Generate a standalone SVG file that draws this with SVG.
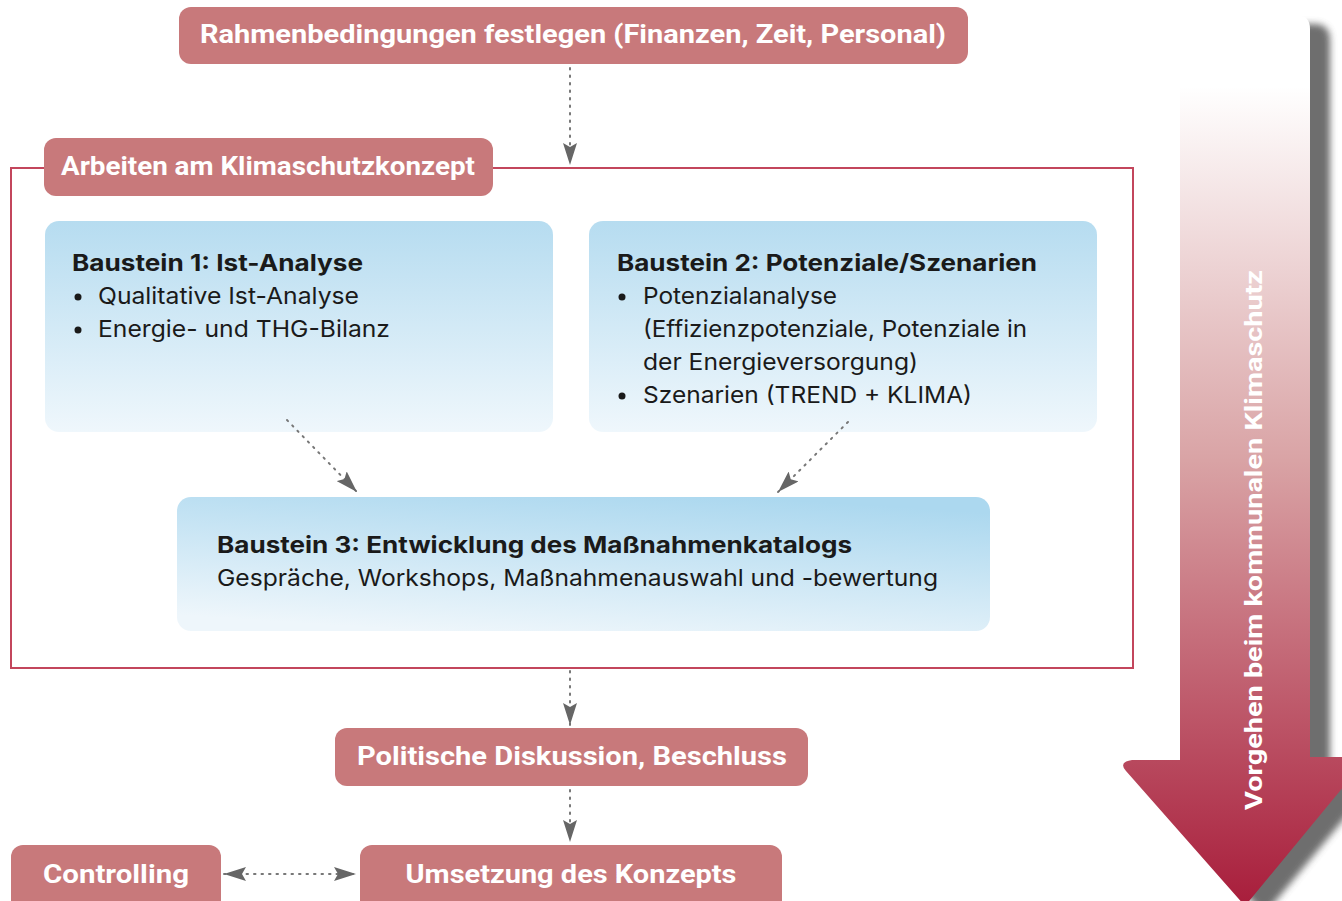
<svg xmlns="http://www.w3.org/2000/svg" width="1342" height="901" viewBox="0 0 1342 901">
<defs>
<linearGradient id="blue" x1="0" y1="0" x2="0" y2="1">
<stop offset="0" stop-color="#b6dcf0"/>
<stop offset="1" stop-color="#eff7fc"/>
</linearGradient>
<linearGradient id="blue3" x1="0.3" y1="1" x2="0.7" y2="0">
<stop offset="0" stop-color="#eef6fb"/>
<stop offset="1" stop-color="#acd8ef"/>
</linearGradient>
<linearGradient id="big" x1="0" y1="0" x2="0" y2="1">
<stop offset="0" stop-color="#ffffff"/>
<stop offset="0.08" stop-color="#ffffff"/>
<stop offset="0.5" stop-color="#d9a3a5"/>
<stop offset="1" stop-color="#a81d3b"/>
</linearGradient>
<filter id="blur" x="-20%" y="-5%" width="140%" height="110%">
<feGaussianBlur stdDeviation="3.5"/>
</filter>
<marker id="ah" viewBox="0 0 22 14" refX="22" refY="7" markerWidth="22" markerHeight="14" markerUnits="userSpaceOnUse" orient="auto-start-reverse">
<path d="M0,0 L22,7 L0,14 L4,7 Z" fill="#666"/>
</marker>
</defs>
<style>
.red{fill:#c8797b}
.rt{font-family:"Roboto","Liberation Sans",sans-serif;font-weight:bold;fill:#fff;font-size:25px}
.bt{font-family:"Inter","Liberation Sans",sans-serif;font-size:23px;fill:#1a1a1a}
.bb{font-weight:bold}
.con{fill:none;stroke:#777;stroke-width:2;stroke-dasharray:1.5 6;stroke-linecap:round}
</style>
<rect width="1342" height="901" fill="#fff"/>

<g id="big-arrow">
<path d="M1200,24 L1314,24 Q1330,24 1330,40 L1330,770 L1385,770 L1264,915 L1145,780 Q1139,772 1150,772 L1200,772 Z" fill="#555" opacity="0.85" filter="url(#blur)"/>
<path d="M1180,15 L1296,15 Q1310,15 1310,29 L1310,757 L1368,757 L1245,906 L1126,771 Q1118,762 1132,760 L1180,760 Z" fill="url(#big)"/>
<text transform="translate(1262,540) rotate(-90)" text-anchor="middle" font-family="Roboto,'Liberation Sans',sans-serif" font-weight="bold" font-size="24" fill="#fff" textLength="540" lengthAdjust="spacingAndGlyphs">Vorgehen beim kommunalen Klimaschutz</text>
</g>

<g id="frame">
<rect x="11" y="168" width="1122" height="500" fill="none" stroke="#c3465c" stroke-width="2"/>
</g>

<g id="n-rahmen">
<rect class="red" x="179" y="7" width="789" height="57" rx="12"/>
<text class="rt" x="573" y="43" text-anchor="middle" textLength="746" lengthAdjust="spacingAndGlyphs">Rahmenbedingungen festlegen (Finanzen, Zeit, Personal)</text>
</g>

<g id="n-arbeiten">
<rect class="red" x="44" y="138" width="449" height="58" rx="12"/>
<text class="rt" x="268" y="175" text-anchor="middle" textLength="414" lengthAdjust="spacingAndGlyphs">Arbeiten am Klimaschutzkonzept</text>
</g>

<g id="n-b1">
<rect x="45" y="221" width="508" height="211" rx="14" fill="url(#blue)"/>
<text class="bt bb" x="72" y="271" textLength="291" lengthAdjust="spacingAndGlyphs">Baustein 1: Ist-Analyse</text>
<circle cx="78" cy="297" r="3.5" fill="#1a1a1a"/>
<text class="bt" x="98" y="304" textLength="261" lengthAdjust="spacingAndGlyphs">Qualitative Ist-Analyse</text>
<circle cx="78" cy="330" r="3.5" fill="#1a1a1a"/>
<text class="bt" x="98" y="337" textLength="292" lengthAdjust="spacingAndGlyphs">Energie- und THG-Bilanz</text>
</g>

<g id="n-b2">
<rect x="589" y="221" width="508" height="211" rx="14" fill="url(#blue)"/>
<text class="bt bb" x="617" y="271" textLength="420" lengthAdjust="spacingAndGlyphs">Baustein 2: Potenziale/Szenarien</text>
<circle cx="622" cy="297" r="3.5" fill="#1a1a1a"/>
<text class="bt" x="643" y="304" textLength="194" lengthAdjust="spacingAndGlyphs">Potenzialanalyse</text>
<text class="bt" x="643" y="337" textLength="384" lengthAdjust="spacingAndGlyphs">(Effizienzpotenziale, Potenziale in</text>
<text class="bt" x="643" y="370" textLength="275" lengthAdjust="spacingAndGlyphs">der Energieversorgung)</text>
<circle cx="622" cy="396" r="3.5" fill="#1a1a1a"/>
<text class="bt" x="643" y="403" textLength="329" lengthAdjust="spacingAndGlyphs">Szenarien (TREND + KLIMA)</text>
</g>

<g id="n-b3">
<rect x="177" y="497" width="813" height="134" rx="14" fill="url(#blue3)"/>
<text class="bt bb" x="217" y="553" textLength="635" lengthAdjust="spacingAndGlyphs">Baustein 3: Entwicklung des Maßnahmenkatalogs</text>
<text class="bt" x="217" y="586" textLength="721" lengthAdjust="spacingAndGlyphs">Gespräche, Workshops, Maßnahmenauswahl und -bewertung</text>
</g>

<g id="n-politik">
<rect class="red" x="335" y="728" width="473" height="58" rx="12"/>
<text class="rt" x="572" y="765" text-anchor="middle" textLength="430" lengthAdjust="spacingAndGlyphs">Politische Diskussion, Beschluss</text>
</g>

<g id="n-umsetzung">
<rect class="red" x="360" y="845" width="422" height="70" rx="12"/>
<text class="rt" x="571" y="883" text-anchor="middle" textLength="331" lengthAdjust="spacingAndGlyphs">Umsetzung des Konzepts</text>
</g>

<g id="n-controlling">
<rect class="red" x="11" y="845" width="210" height="70" rx="12"/>
<text class="rt" x="116" y="883" text-anchor="middle" textLength="146" lengthAdjust="spacingAndGlyphs">Controlling</text>
</g>

<g id="connectors">
<path class="con" d="M570,68 L570,165" marker-end="url(#ah)"/>
<path class="con" d="M287,420 L357,492" marker-end="url(#ah)"/>
<path class="con" d="M848,422 L778,492" marker-end="url(#ah)"/>
<path class="con" d="M570,671 L570,725" marker-end="url(#ah)"/>
<path class="con" d="M570,790 L570,842" marker-end="url(#ah)"/>
<path class="con" d="M224,874 L356,874" marker-start="url(#ah)" marker-end="url(#ah)"/>
</g>
</svg>
